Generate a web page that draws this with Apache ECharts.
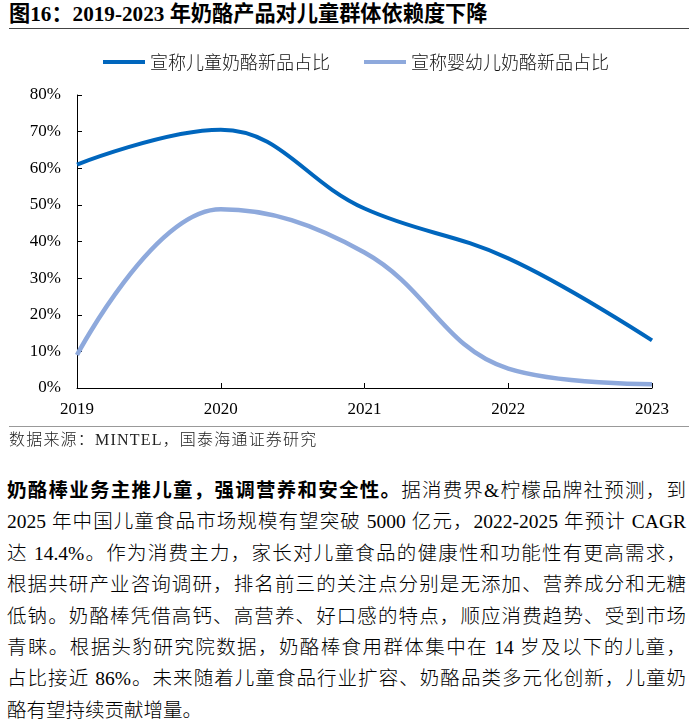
<!DOCTYPE html>
<html>
<head>
<meta charset="utf-8">
<script src="https://cdn.jsdelivr.net/npm/echarts@6/dist/echarts.min.js"></script>
<style>
    html, body { margin: 0; padding: 0; background: #fff; }
    body { width: 696px; height: 725px; position: relative; overflow: hidden;
           font-family: "Liberation Serif", "Noto Sans CJK SC", serif; color: #000; }
    #title { position: absolute; left: 9px; top: 1px; font-size: 21.2px; font-weight: bold;
             line-height: 27px; white-space: nowrap; }
    .rule { position: absolute; left: 9px; width: 680px; }
    #rule1 { top: 28px; border-top: 1.5px solid #444; }
    #rule2 { top: 426px; border-top: 1.5px solid #999; }
    #echart { position: absolute; left: 0; top: 35px; width: 696px; height: 400px; }
    #source { position: absolute; left: 9px; top: 430px; font-size: 16px; letter-spacing: 1.2px;
              line-height: 20px; color: #222; white-space: nowrap; font-weight: 300; }
    #para { position: absolute; left: 7px; top: 475px; width: 679px; font-size: 19.5px; font-weight: 300; }
    #para b { font-weight: bold; }
    #para div { height: 31.4px; line-height: 31.4px; text-align: justify; text-align-last: justify; }
    #para div.last { text-align-last: left; }
</style>
</head>
<body>
<div id="title">图16：2019-2023 年奶酪产品对儿童群体依赖度下降</div>
<div class="rule" id="rule1"></div>
<div id="echart"></div>
<div class="rule" id="rule2"></div>
<div id="source">数据来源：MINTEL，国泰海通证券研究</div>
<div id="para">
    <div><b>奶酪棒业务主推儿童，强调营养和安全性。</b>据消费界&amp;柠檬品牌社预测，到</div>
    <div>2025 年中国儿童食品市场规模有望突破 5000 亿元，2022-2025 年预计 CAGR</div>
    <div>达 14.4%。作为消费主力，家长对儿童食品的健康性和功能性有更高需求，</div>
    <div>根据共研产业咨询调研，排名前三的关注点分别是无添加、营养成分和无糖</div>
    <div>低钠。奶酪棒凭借高钙、高营养、好口感的特点，顺应消费趋势、受到市场</div>
    <div>青睐。根据头豹研究院数据，奶酪棒食用群体集中在 14 岁及以下的儿童，</div>
    <div>占比接近 86%。未来随着儿童食品行业扩容、奶酪品类多元化创新，儿童奶</div>
    <div class="last">酪有望持续贡献增量。</div>
</div>
<script>
// 数据
var years = ['2019', '2020', '2021', '2022', '2023'];
var childNewShare = [61, 70.5, 49, 35.4, 13];   // 宣称儿童奶酪新品占比 (%)
var infantNewShare = [9, 48.8, 37, 5.3, 1];     // 宣称婴幼儿奶酪新品占比 (%)
var seriesNames = ['宣称儿童奶酪新品占比', '宣称婴幼儿奶酪新品占比'];
var seriesColors = ['#0066BD', '#8EA9DC'];

var myChart = echarts.init(document.getElementById('echart'));

var axisFont = { fontFamily: 'Liberation Serif', fontSize: 17, color: '#000' };

var option = {
    animation: false,
    color: seriesColors,
    legend: {
        left: 98,
        top: 13,
        icon: 'rect',
        itemWidth: 42,
        itemHeight: 4,
        itemGap: 34,
        textStyle: { fontFamily: 'Noto Sans CJK SC', fontSize: 18, fontWeight: 300, color: '#111' },
        data: seriesNames
    },
    grid: { left: 77, right: 44, top: 60, bottom: 47 },
    xAxis: {
        type: 'category',
        data: years,
        boundaryGap: false,
        axisLine: { lineStyle: { color: '#000', width: 1 } },
        axisTick: { inside: true, length: 5, lineStyle: { color: '#000' } },
        axisLabel: Object.assign({ margin: 13 }, axisFont)
    },
    yAxis: {
        type: 'value',
        min: 0,
        max: 80,
        interval: 10,
        splitLine: { show: false },
        axisLine: { show: true, lineStyle: { color: '#000', width: 1 } },
        axisTick: { show: true, inside: true, length: 5, lineStyle: { color: '#000' } },
        axisLabel: Object.assign({ margin: 16, formatter: '{value}%' }, axisFont)
    },
    series: [{
        name: seriesNames[0],
        type: 'line',
        data: childNewShare,
        smooth: 0.4,
        symbol: 'none',
        lineStyle: { width: 4 }
    }, {
        name: seriesNames[1],
        type: 'line',
        data: infantNewShare,
        smooth: 0.4,
        symbol: 'none',
        lineStyle: { width: 4.5 }
    }]
};

myChart.setOption(option);
</script>
</body>
</html>
